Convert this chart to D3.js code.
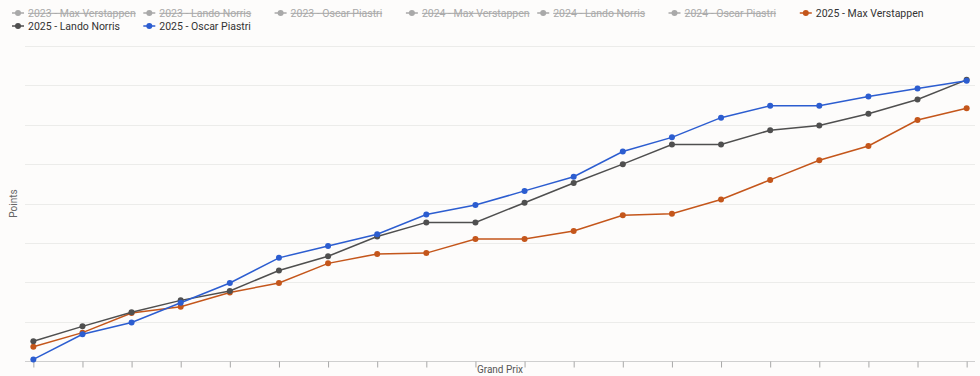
<!DOCTYPE html>
<html>
<head>
<meta charset="utf-8">
<script src="https://cdn.jsdelivr.net/npm/d3@7"></script>
<style>
  body { margin: 0; background: #fdfcfb; }
  svg { display: block; font-family: Roboto, "Noto Sans", sans-serif; }
</style>
</head>
<body>
<svg class="chart"></svg>
<script>
// 2025 cumulative points after each grand prix (sprints included)
var races = ["AUS", "CHN", "JPN", "BHR", "SAU", "MIA", "EMI", "MON", "ESP", "CAN",
             "AUT", "GBR", "BEL", "HUN", "NED", "ITA", "AZE", "SIN", "USA", "MEX"];
var verstappen2025 = [18, 36, 61, 69, 87, 99, 124, 136, 137, 155, 155, 165, 185, 187, 205, 230, 255, 273, 306, 321];
var norris2025 = [25, 44, 62, 77, 89, 115, 133, 158, 176, 176, 201, 226, 250, 275, 275, 293, 299, 314, 332, 357];
var piastri2025 = [2, 34, 49, 74, 99, 131, 146, 161, 186, 198, 216, 234, 266, 284, 309, 324, 324, 336, 346, 356];
var yTicks = [0, 50, 100, 150, 200, 250, 300, 350, 400];

// legend entries; the 2023 and 2024 series are switched off
var legendNames = ["2023 - Max Verstappen", "2023 - Lando Norris", "2023 - Oscar Piastri",
                   "2024 - Max Verstappen", "2024 - Lando Norris", "2024 - Oscar Piastri",
                   "2025 - Max Verstappen", "2025 - Lando Norris", "2025 - Oscar Piastri"];
var legendHidden = [true, true, true, true, true, true, false, false, false];

function show() {
    'use strict';

    var width = 980, height = 376;
    var margin = {top: 46, bottom: 15, left: 25, right: 5};

    var svg = d3.select(".chart")
        .attr("width", width)
        .attr("height", height);

    var series = [
        {name: "2025 - Max Verstappen", color: "#c4561b", values: verstappen2025},
        {name: "2025 - Lando Norris", color: "#4f4f4f", values: norris2025},
        {name: "2025 - Oscar Piastri", color: "#2c5dd0", values: piastri2025}
    ];
    var colorOf = {};
    series.forEach(function(s) { colorOf[s.name] = s.color; });

    var x = d3.scalePoint()
        .domain(races)
        .range([margin.left, width - margin.right])
        .padding(0.17);

    var y = d3.scaleLinear()
        .domain([0, 400])
        .range([height - margin.bottom, margin.top]);

    // horizontal grid
    svg.append("g")
        .selectAll("line")
        .data(yTicks.slice(1))
        .enter().append("line")
        .attr("x1", margin.left)
        .attr("x2", width - margin.right)
        .attr("y1", function(d) { return Math.round(y(d)) + 0.5; })
        .attr("y2", function(d) { return Math.round(y(d)) + 0.5; })
        .attr("stroke", "#ececea")
        .attr("stroke-width", 1);

    // x axis: ticks only, no labels
    var xAxis = svg.append("g")
        .attr("transform", "translate(0," + (Math.round(y(0)) + 0.5) + ")")
        .call(d3.axisBottom(x).tickSize(6).tickFormat(""));
    xAxis.select(".domain").attr("stroke", "#cfcfcf").attr("d", "M" + margin.left + ",0H" + (width - margin.right));
    xAxis.selectAll(".tick line").attr("stroke", "#a8a8a8");

    svg.append("text")
        .attr("x", (margin.left + width - margin.right) / 2)
        .attr("y", 373)
        .attr("text-anchor", "middle")
        .attr("font-size", 10)
        .attr("fill", "#555")
        .text("Grand Prix");

    svg.append("text")
        .attr("transform", "translate(17," + ((margin.top + height - margin.bottom) / 2) + ") rotate(-90)")
        .attr("text-anchor", "middle")
        .attr("font-size", 10)
        .attr("fill", "#666")
        .text("Points");

    var line = d3.line()
        .x(function(d, i) { return x(races[i]); })
        .y(function(d) { return y(d); });

    var g = svg.selectAll(".series")
        .data(series)
        .enter().append("g")
        .attr("class", "series");

    g.append("path")
        .attr("d", function(s) { return line(s.values); })
        .attr("fill", "none")
        .attr("stroke", function(s) { return s.color; })
        .attr("stroke-width", 1.5);

    g.selectAll("circle")
        .data(function(s) { return s.values.map(function(v, i) { return {v: v, i: i, c: s.color}; }); })
        .enter().append("circle")
        .attr("cx", function(d) { return x(races[d.i]); })
        .attr("cy", function(d) { return y(d.v); })
        .attr("r", 3)
        .attr("fill", function(d) { return d.c; });

    // legend, 7 entries per row
    var legend = svg.append("g").selectAll("g")
        .data(legendNames)
        .enter().append("g")
        .attr("transform", function(d, i) {
            return "translate(" + (12 + (i % 7) * 131.3) + "," + (13 + Math.floor(i / 7) * 13) + ")";
        });

    legend.append("line")
        .attr("x1", 0).attr("x2", 12)
        .attr("stroke", function(d, i) { return legendHidden[i] ? "#a9a9a9" : colorOf[d]; })
        .attr("stroke-width", 1.5);
    legend.append("circle")
        .attr("cx", 6).attr("r", 3)
        .attr("fill", function(d, i) { return legendHidden[i] ? "#a9a9a9" : colorOf[d]; });
    legend.append("text")
        .attr("x", 16)
        .attr("dy", "0.35em")
        .attr("font-size", 10.5)
        .attr("fill", function(d, i) { return legendHidden[i] ? "#a9a9a9" : "#333"; })
        .attr("text-decoration", function(d, i) { return legendHidden[i] ? "line-through" : null; })
        .text(function(d) { return d; });
}
show();
</script>
</body>
</html>
